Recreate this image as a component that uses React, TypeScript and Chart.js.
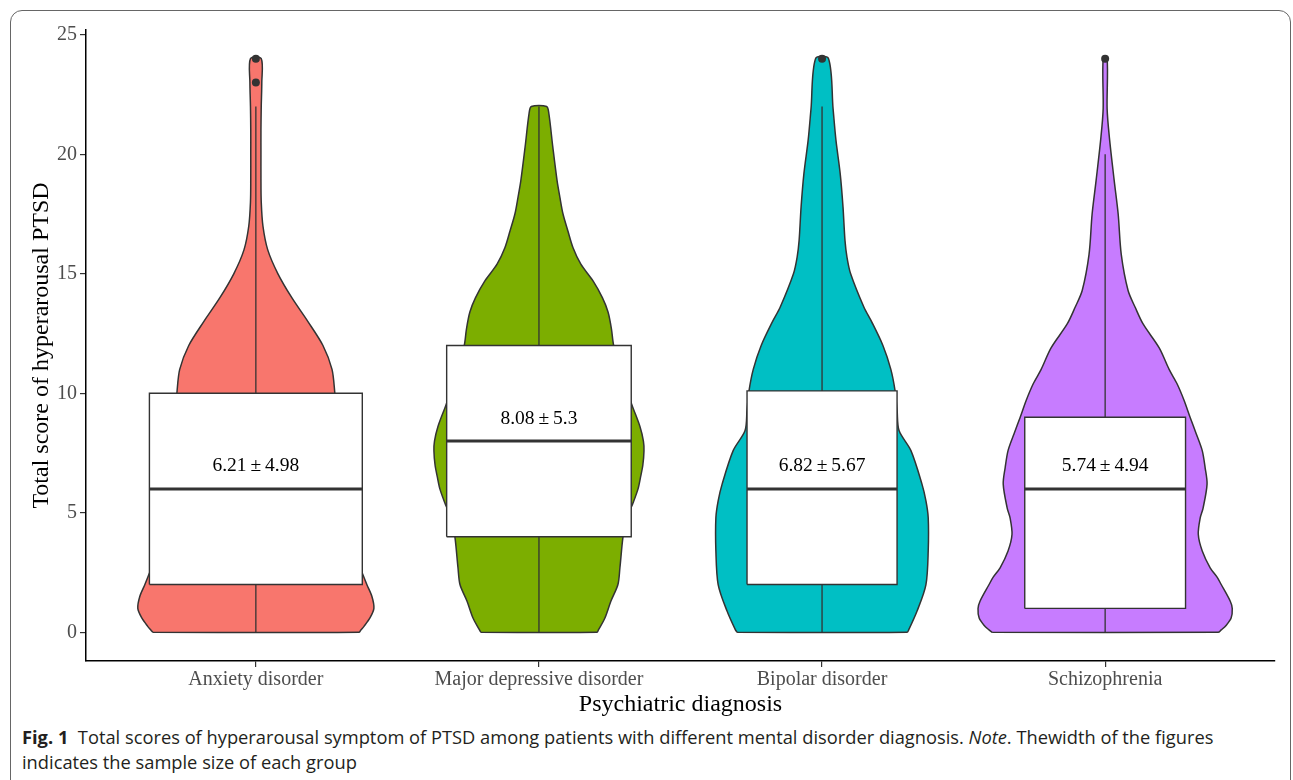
import React, { useEffect, useRef } from "react";
import { Chart, registerables } from "chart.js";

Chart.register(...registerables);

// ---------- data ----------
const categories = ["Anxiety disorder", "Major depressive disorder", "Bipolar disorder", "Schizophrenia"];
const fillColors = ["#F8766D", "#7CAE00", "#00BFC4", "#C77CFF"];
const yTicks = [0, 5, 10, 15, 20, 25];

// violin outlines: score levels and half-widths (% of category spacing)
const anxietyLevels = [0, 0.1, 0.25, 0.6, 1, 1.5, 2, 2.5, 3, 4, 5, 6, 7, 8, 9, 10, 11, 12, 13, 14, 15, 16, 17, 18, 19, 20, 21, 22, 23, 24];
const anxietyWidths = [36.4, 37.1, 38.2, 40.3, 41.7, 41.0, 39.2, 37.5, 35.7, 34.3, 32.9, 31.8, 30.7, 29.7, 28.6, 27.9, 26.9, 23.7, 18.4, 12.7, 7.8, 4.2, 2.5, 1.9, 1.8, 1.8, 1.8, 1.9, 2.1, 1.9];

const majorLevels = [0, 0.1, 0.6, 1.3, 2, 2.7, 4, 4.5, 5, 5.4, 6, 6.5, 7, 7.6, 8, 8.6, 9.4, 10, 11, 12, 12.7, 13.4, 14, 14.7, 15.4, 16.1, 16.8, 17.5, 18.2, 18.9, 20.3, 21.7, 22];
const majorWidths = [20.5, 21.0, 23.3, 25.4, 27.9, 28.6, 29.7, 30.7, 31.8, 33.2, 35.0, 35.9, 36.7, 37.1, 36.9, 35.7, 33.2, 31.4, 29.0, 26.4, 25.6, 24.4, 22.4, 19.1, 14.8, 12.0, 10.2, 8.5, 7.4, 6.4, 4.9, 3.5, 2.7];

const bipolarLevels = [0, 0.1, 0.9, 2, 3.4, 4.8, 5.5, 6.2, 7.6, 8.44, 9.3, 10.1, 11, 12, 13, 13.6, 15, 15.7, 16.4, 17.8, 19.2, 20.6, 21.9, 24];
const bipolarWidths = [30.0, 30.6, 33.6, 36.7, 37.5, 37.5, 36.7, 35.3, 31.4, 27.2, 26.5, 25.8, 24.3, 21.5, 17.5, 14.8, 10.1, 8.8, 8.1, 7.4, 6.4, 4.9, 3.9, 2.3];

const schizoLevels = [0, 0.1, 0.3, 0.6, 1, 1.3, 2, 2.3, 2.7, 3.4, 4.1, 4.8, 5.2, 6.2, 6.9, 7.6, 8.3, 9, 9.7, 10.4, 11, 11.9, 12.9, 13.6, 14.3, 15.8, 17.5, 18.9, 20.7, 21.9, 24];
const schizoWidths = [39.9, 41.0, 42.8, 44.5, 44.9, 44.2, 41.0, 39.6, 37.1, 34.3, 32.9, 33.6, 34.6, 36.0, 35.3, 34.3, 32.2, 30.0, 27.9, 25.4, 22.6, 19.1, 13.4, 10.6, 8.1, 5.7, 4.6, 3.2, 1.5, 0.7, 0.7];

const violinLevels = [anxietyLevels, majorLevels, bipolarLevels, schizoLevels];
const violinWidths = [anxietyWidths, majorWidths, bipolarWidths, schizoWidths];

// box plot statistics
const q1 = [2, 4, 2, 1];
const medians = [6, 8, 6, 6];
const q3 = [10, 12, 10.1, 9];
const whiskerLow = [0, 0, 0, 0];
const whiskerHigh = [22, 22, 22, 20];
const boxWidths = [37.6, 32.6, 26.5, 28.4]; // half-width, % of category spacing
const outliers = [[23, 24], [], [24], [24]];

// mean ± sd labels
const means = ["6.21", "8.08", "6.82", "5.74"];
const sds = ["4.98", "5.3", "5.67", "4.94"];

// ---------- chart ----------
const SERIF = '"Liberation Serif", "Times New Roman", serif';
const INK = "#333333";

function buildDatasets() {
  const ds: any[] = [];
  categories.forEach((_, i) => {
    const c = i + 1;
    const lv = violinLevels[i];
    const w = violinWidths[i];
    const right = lv.map((y, k) => ({ x: c + w[k] / 100, y }));
    const left = lv.map((y, k) => ({ x: c - w[k] / 100, y })).reverse();
    ds.push({
      data: [left[left.length - 1], ...right, ...left],
      borderColor: INK,
      borderWidth: 1.5,
      backgroundColor: fillColors[i],
      fill: "shape",
      tension: 0.3,
      pointRadius: 0,
      order: 5,
    });
    ds.push({
      data: [{ x: c, y: q3[i] }, { x: c, y: whiskerHigh[i] }],
      borderColor: INK, borderWidth: 1.3, pointRadius: 0, fill: false, order: 4,
    });
    ds.push({
      data: [{ x: c, y: whiskerLow[i] }, { x: c, y: q1[i] }],
      borderColor: INK, borderWidth: 1.3, pointRadius: 0, fill: false, order: 4,
    });
    const bw = boxWidths[i] / 100;
    ds.push({
      data: [
        { x: c - bw, y: q1[i] }, { x: c + bw, y: q1[i] }, { x: c + bw, y: q3[i] },
        { x: c - bw, y: q3[i] }, { x: c - bw, y: q1[i] },
      ],
      borderColor: INK, borderWidth: 1.4, backgroundColor: "#ffffff", fill: "shape",
      tension: 0, pointRadius: 0, borderJoinStyle: "miter", order: 3,
    });
    ds.push({
      data: [{ x: c - bw, y: medians[i] }, { x: c + bw, y: medians[i] }],
      borderColor: INK, borderWidth: 3, pointRadius: 0, fill: false, order: 2,
    });
    if (outliers[i].length) {
      ds.push({
        data: outliers[i].map((y) => ({ x: c, y })),
        showLine: false, pointRadius: 4, pointBackgroundColor: INK, pointBorderColor: INK,
        pointBorderWidth: 0, order: 1,
      });
    }
  });
  return ds;
}

const labelPlugin = {
  id: "meanSdLabels",
  afterDatasetsDraw(chart: any) {
    const { ctx, scales } = chart;
    ctx.save();
    ctx.font = `19.5px ${SERIF}`;
    ctx.fillStyle = "#000";
    ctx.textAlign = "center";
    ctx.textBaseline = "middle";
    categories.forEach((_, i) => {
      ctx.fillText(
        `${means[i]}\u2009±\u2009${sds[i]}`,
        scales.x.getPixelForValue(i + 1),
        scales.y.getPixelForValue(medians[i] + 0.95)
      );
    });
    ctx.restore();
  },
};

function ViolinChart() {
  const ref = useRef<HTMLCanvasElement | null>(null);
  useEffect(() => {
    if (!ref.current) return;
    Chart.defaults.font.family = SERIF;
    const chart = new Chart(ref.current, {
      type: "line",
      data: { datasets: buildDatasets() },
      options: {
        animation: false,
        responsive: false,
        devicePixelRatio: 1,
        layout: { padding: { top: 30, right: 18, left: 0, bottom: 0 } },
        plugins: { legend: { display: false }, tooltip: { enabled: false } },
        elements: { point: { radius: 0 } },
        scales: {
          x: {
            type: "linear",
            min: 0.4,
            max: 4.6,
            afterBuildTicks: (s: any) => { s.ticks = categories.map((_, i) => ({ value: i + 1 })); },
            afterFit: (s: any) => { s.height = 59; },
            ticks: {
              callback: (_v: any, idx: number) => categories[idx],
              color: "#4d4d4d",
              font: { size: 20, family: SERIF },
              padding: 1,
              maxRotation: 0,
              autoSkip: false,
            },
            grid: { drawOnChartArea: false, drawTicks: true, tickLength: 6, color: INK, lineWidth: 1.2 },
            border: { display: true, color: "#000", width: 1.5 },
            title: { display: true, text: "Psychiatric diagnosis", color: "#000", font: { size: 24, family: SERIF }, padding: { top: 0, bottom: 1 } },
          },
          y: {
            type: "linear",
            min: -1.2,
            max: 25.2,
            afterBuildTicks: (s: any) => { s.ticks = yTicks.map((v) => ({ value: v })); },
            afterFit: (s: any) => { s.width = 86; },
            ticks: { color: "#4d4d4d", font: { size: 20, family: SERIF }, padding: 3 },
            grid: { drawOnChartArea: false, drawTicks: true, tickLength: 6, color: INK, lineWidth: 1.2 },
            border: { display: true, color: "#000", width: 1.5 },
            title: { display: true, text: "Total score of hyperarousal PTSD", color: "#000", font: { size: 24, family: SERIF }, padding: { top: 27, bottom: 0 } },
          },
        },
      },
      plugins: [labelPlugin],
    } as any);
    return () => chart.destroy();
  }, []);
  return (
    <canvas
      ref={ref}
      width={1293}
      height={720}
      style={{ position: "absolute", left: 0, top: 0, width: 1293, height: 720 }}
    />
  );
}

export default function App() {
  return (
    <div style={{ position: "absolute", left: 0, top: 0, width: 1293, height: 780, overflow: "hidden", background: "#fff" }}>
      <div
        style={{
          position: "absolute", left: 10, top: 10, width: 1281, height: 800,
          border: "1.5px solid #666", borderRadius: 12, boxSizing: "border-box",
        }}
      />
      <ViolinChart />
      <div
        style={{
          position: "absolute", left: 22, top: 724, fontFamily: '"Open Sans", sans-serif',
          fontSize: 18.3, lineHeight: "25px", color: "#231f20", whiteSpace: "nowrap",
        }}
      >
        <b>Fig. 1</b>&nbsp;&nbsp;Total scores of hyperarousal symptom of PTSD among patients with different mental disorder diagnosis. <i>Note</i>. Thewidth of the figures
        <br />
        indicates the sample size of each group
      </div>
    </div>
  );
}
